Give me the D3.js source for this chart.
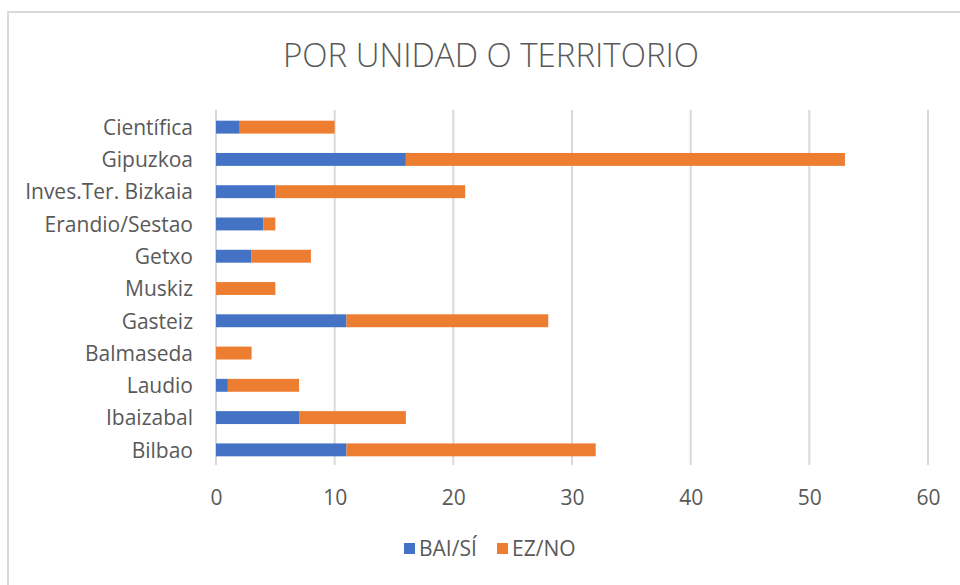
<!DOCTYPE html>
<html>
<head>
<meta charset="utf-8">
<script src="https://cdn.jsdelivr.net/npm/d3@7"></script>
<style>
  html, body { margin: 0; padding: 0; background: #fff; }
  svg { display: block; }
</style>
</head>
<body>
<svg id="chart" width="960" height="585"></svg>
<script>
// Units / territories, top to bottom
const categories = ["Científica", "Gipuzkoa", "Inves.Ter. Bizkaia", "Erandio/Sestao", "Getxo",
  "Muskiz", "Gasteiz", "Balmaseda", "Laudio", "Ibaizabal", "Bilbao"];
const baiSi = [2, 16, 5, 4, 3, 0, 11, 0, 1, 7, 11];
const ezNo  = [8, 37, 16, 1, 5, 5, 17, 3, 6, 9, 21];
const seriesNames = ["BAI/SÍ", "EZ/NO"];
const xTicks = [0, 10, 20, 30, 40, 50, 60];
const colors = ["#4472C4", "#ED7D31"];

const svg = d3.select("#chart");
const font = "'Open Sans', 'DejaVu Sans', sans-serif";
const textColor = "#595959";

// chart frame
svg.append("rect")
  .attr("x", 8).attr("y", 12).attr("width", 1000).attr("height", 1000)
  .attr("fill", "#fff").attr("stroke", "#d9d9d9").attr("stroke-width", 2);

// title
svg.append("text")
  .attr("x", 491).attr("y", 67)
  .attr("text-anchor", "middle")
  .attr("font-family", font).attr("font-weight", 300)
  .attr("font-size", 33).attr("fill", textColor)
  .text("POR UNIDAD O TERRITORIO");

const x = d3.scaleLinear().domain([0, 60]).range([216, 928]);
const y = d3.scaleBand().domain(categories).range([111, 466]).paddingInner(0.6).paddingOuter(0.3);

// vertical gridlines
svg.append("g")
  .selectAll("line")
  .data(xTicks)
  .join("line")
  .attr("x1", d => x(d)).attr("x2", d => x(d))
  .attr("y1", 110).attr("y2", 465)
  .attr("stroke", "#d9d9d9").attr("stroke-width", 2);

// stacked bars
const rows = categories.map((c, i) => ({ cat: c, "BAI/SÍ": baiSi[i], "EZ/NO": ezNo[i] }));
const stacked = d3.stack().keys(seriesNames)(rows);

svg.append("g")
  .selectAll("g")
  .data(stacked)
  .join("g")
  .attr("fill", (d, i) => colors[i])
  .selectAll("rect")
  .data(d => d)
  .join("rect")
  .attr("x", d => x(d[0]))
  .attr("width", d => x(d[1]) - x(d[0]))
  .attr("y", d => y(d.data.cat))
  .attr("height", y.bandwidth());

// category axis labels
const yAxis = d3.axisLeft(y).tickSize(0).tickPadding(0);
const gy = svg.append("g").attr("transform", "translate(193,1)").call(yAxis);
gy.select(".domain").remove();
gy.selectAll("text")
  .attr("font-family", font).attr("font-size", 21).attr("fill", textColor);

// value axis labels
const xAxis = d3.axisBottom(x).tickValues(xTicks).tickSize(0).tickPadding(0);
const gx = svg.append("g").attr("transform", "translate(0,490)").call(xAxis);
gx.select(".domain").remove();
gx.selectAll("text")
  .attr("font-family", font).attr("font-size", 21).attr("fill", textColor);

// legend
const legend = svg.append("g");
const legendX = [404, 497];
seriesNames.forEach((name, i) => {
  legend.append("rect")
    .attr("x", legendX[i]).attr("y", 543).attr("width", 11).attr("height", 11)
    .attr("fill", colors[i]);
  legend.append("text")
    .attr("x", legendX[i] + 15).attr("y", 556)
    .attr("font-family", font).attr("font-size", 21).attr("fill", textColor)
    .text(name);
});
</script>
</body>
</html>
